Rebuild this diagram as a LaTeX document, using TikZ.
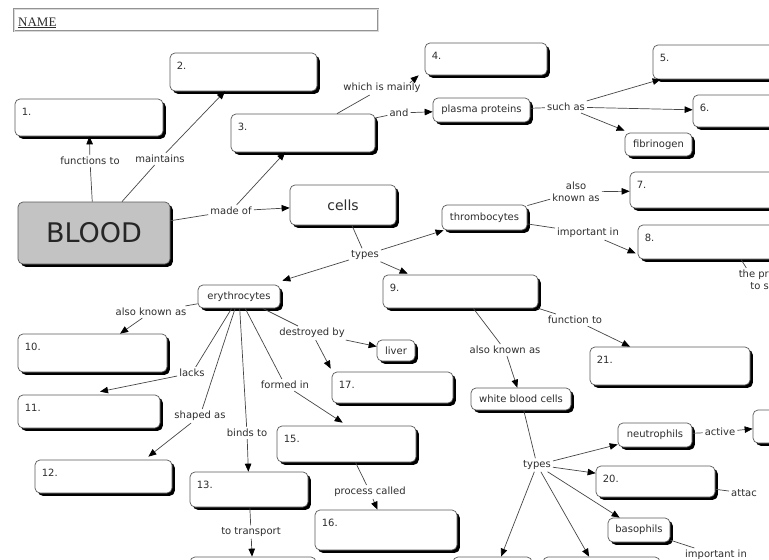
\documentclass[tikz,border=0pt]{standalone}
\usepackage{fontspec}
\setmainfont{DejaVu Sans}
\newfontfamily\namefont{Liberation Serif}
\usetikzlibrary{arrows.meta,shadows,calc}
\definecolor{linec}{RGB}{70,70,70}
\definecolor{txtc}{RGB}{45,45,45}
\definecolor{bordc}{RGB}{90,90,90}
\definecolor{bloodc}{RGB}{195,195,195}
\tikzset{
 cb/.style={draw=bordc, line width=0.7pt, fill=white, rounded corners=5pt, inner sep=0pt,
   drop shadow={shadow xshift=2.8pt, shadow yshift=-2.8pt, opacity=1, fill=black},
   font=\fontsize{10}{12}\selectfont, text=txtc},
 numtxt/.style={anchor=base west, inner sep=0pt, font=\fontsize{10}{12}\selectfont, text=txtc},
 lbl/.style={inner sep=2pt, font=\fontsize{10}{12}\selectfont, text=txtc},
 ln/.style={draw=linec, line width=0.7pt},
 arr/.style={ln, -{Triangle[length=8pt,width=6.5pt,color=black]}},
}
\newcommand\cmbox[6]{%
  \node[cb, minimum width={#4-#2}, minimum height={#5-#3}] (#1) at ({(#2+#4)/2},{(#3+#5)/2}) {};
  \node[numtxt] (#1t) at ($(#1.north west)+(7,17)$) {#6};}
\newcommand\cmtext[6]{%
  \node[cb, minimum width={#4-#2}, minimum height={#5-#3}] (#1) at ({(#2+#4)/2},{(#3+#5)/2}) {#6};}
\begin{document}
\begin{tikzpicture}[x=1pt,y=-1pt]
\useasboundingbox (0,0) rectangle (769,560);
% name field
\node[draw=gray!85, line width=0.6pt, double=gray!30, double distance=0.8pt, minimum width=364, minimum height=22, inner sep=0pt] (namebox) at (196,20) {};
\node[anchor=base west, inner sep=0pt, font=\namefont\fontsize{13}{15}\selectfont, text=txtc] (nametxt) at (18,26) {\underline{NAME}};
% numbered boxes
\cmbox{b1}{15}{99}{163}{136}{1.}
\cmbox{b2}{170}{53}{317}{91}{2.}
\cmbox{b3}{231}{114}{375}{152}{3.}
\cmbox{b4}{425}{43}{547}{75}{4.}
\cmbox{b5}{653}{45}{800}{79}{5.}
\cmbox{b6}{693}{95}{800}{127}{6.}
\cmbox{b7}{630}{172}{800}{208}{7.}
\cmbox{b8}{638}{225}{800}{259}{8.}
\cmbox{b9}{383}{275}{538}{308}{9.}
\cmbox{b10}{18}{334}{167}{372}{10.}
\cmbox{b11}{18}{395}{160}{428}{11.}
\cmbox{b12}{35}{460}{172}{493}{12.}
\cmbox{b13}{190}{472}{308}{507}{13.}
\cmbox{b15}{277}{426}{416}{462}{15.}
\cmbox{b16}{315}{510}{457}{550}{16.}
\cmbox{b17}{332}{372}{453}{403}{17.}
\cmbox{b20}{596}{466}{715}{497}{20.}
\cmbox{b21}{590}{347}{750}{385}{21.}
\cmtext{bA}{190}{557}{316}{600}{}
\cmtext{bB}{453}{557}{532}{600}{}
\cmtext{bC}{543}{557}{660}{600}{}
\cmtext{bR}{753}{410}{800}{443}{}
% concepts
\node[cb, fill=bloodc, minimum width=152, minimum height=62, text=black!85, font=\fontsize{27}{30}\selectfont] (blood) at (94,233) {BLOOD};
\cmtext{cells}{290}{185}{396}{225}{\fontsize{14}{16}\selectfont cells}
\cmtext{pp}{433}{98}{530}{122}{plasma proteins}
\cmtext{fib}{625}{133}{692}{156}{fibrinogen}
\cmtext{thr}{442}{205}{527}{230}{thrombocytes}
\cmtext{ery}{198}{285}{280}{308}{erythrocytes}
\cmtext{liver}{377}{340}{415}{361}{liver}
\cmtext{wbc}{471}{388}{571}{410}{white blood cells}
\cmtext{neu}{618}{423}{692}{447}{neutrophils}
\cmtext{baso}{608}{518}{670}{542}{basophils}
% linking phrases
\node[lbl] (lfun) at (90,161) {functions to};
\node[lbl] (lmain) at (160,159) {maintains};
\node[lbl] (lmade) at (231,211) {made of};
\node[lbl] (lwhich) at (382,88) {which is mainly};
\node[lbl] (land) at (399,113) {and};
\node[lbl] (lsuch) at (566,107) {such as};
\node[lbl] (lt1) at (365,255) {types};
\node[lbl, align=center] (lakn7) at (576,192) {also\\known as};
\node[lbl] (limp8) at (588,233) {important in};
\node[lbl, align=right, anchor=east] (lpr) at (771,280) {the pr\\to s};
\node[lbl] (lakn10) at (151,312) {also known as};
\node[lbl] (ldes) at (312,333) {destroyed by};
\node[lbl] (llacks) at (192,373) {lacks};
\node[lbl] (lshp) at (200,416) {shaped as};
\node[lbl] (lbind) at (247,433) {binds to};
\node[lbl] (lform) at (285,385) {formed in};
\node[lbl] (lproc) at (370,492) {process called};
\node[lbl] (ltrans) at (251,532) {to transport};
\node[lbl] (lfn21) at (575,320) {function to};
\node[lbl] (lakn9) at (505,350) {also known as};
\node[lbl] (lt2) at (537,465) {types};
\node[lbl] (lact) at (720,432) {active};
\node[lbl, anchor=west] (latt) at (729,493) {attac};
\node[lbl] (limpb) at (716,555) {important in};
% connectors
\draw[ln] (blood) -- (lfun); \draw[arr] (lfun) -- (b1);
\draw[ln] (blood) -- (lmain); \draw[arr] (lmain) -- (b2);
\draw[ln] (blood) -- (lmade); \draw[arr] (lmade) -- (cells); \draw[arr] (lmade) -- (b3);
\draw[ln] (b3) -- (lwhich); \draw[arr] ($(lwhich.north east)+(-13,2)$) -- ($(b4.south west)+(-6,0)$);
\draw[ln] (b3) -- (land); \draw[arr] (land) -- (pp);
\draw[ln] (pp) -- (lsuch); \draw[arr] (lsuch) -- ($(b5.south west)+(8,0)$);
\draw[arr] (lsuch) -- (b6); \draw[arr] (lsuch) -- ($(fib.north west)+(0,-2)$);
\draw[ln] (cells) -- (lt1); \draw[arr] (lt1) -- ($(ery.north east)+(2,-4)$);
\draw[arr] (lt1) -- (thr); \draw[arr] (lt1) -- ($(b9.north west)+(25,-1)$);
\draw[ln] (thr) -- (lakn7); \draw[arr] (lakn7) -- (b7);
\draw[ln] (thr) -- (limp8); \draw[arr] (limp8) -- ($(b8.south west)+(-2,-6)$);
\draw[ln] ($(b8.south)+(22,0)$) -- (lpr);
\draw[ln] (ery) -- (lakn10); \draw[arr] (lakn10) -- (b10);
\draw[ln] (ery) -- (ldes); \draw[arr] (ldes) -- (liver); \draw[arr] (ldes) -- ($(b17.north west)+(-1,-3)$);
\draw[ln] (ery) -- (llacks); \draw[arr] (llacks) -- ($(b11.north)+(11,-3)$);
\draw[ln] (ery) -- (lshp); \draw[arr] (lshp) -- ($(b12.north east)+(-24,-3)$);
\draw[ln] (ery) -- (lbind); \draw[arr] (lbind) -- (b13);
\draw[ln] (ery) -- (lform); \draw[arr] (lform) -- ($(b15.north west)+(66,-3)$);
\draw[ln] (b15) -- (lproc); \draw[arr] (lproc) -- (b16);
\draw[ln] (b13) -- (ltrans); \draw[arr] (ltrans) -- (bA);
\draw[ln] (b9.south east) -- (lfn21); \draw[arr] (lfn21) -- (b21);
\draw[ln] (b9) -- (lakn9); \draw[arr] (lakn9) -- (wbc);
\draw[ln] (wbc) -- (lt2); \draw[arr] (lt2) -- (neu); \draw[arr] (lt2) -- (b20);
\draw[arr] (lt2) -- (baso); \draw[arr] (lt2) -- (bB); \draw[arr] (lt2) -- (bC);
\draw[ln] (neu) -- (lact); \draw[arr] (lact) -- (bR);
\draw[ln] (b20) -- (latt);
\draw[ln] (baso) -- (limpb);
\end{tikzpicture}
\end{document}
